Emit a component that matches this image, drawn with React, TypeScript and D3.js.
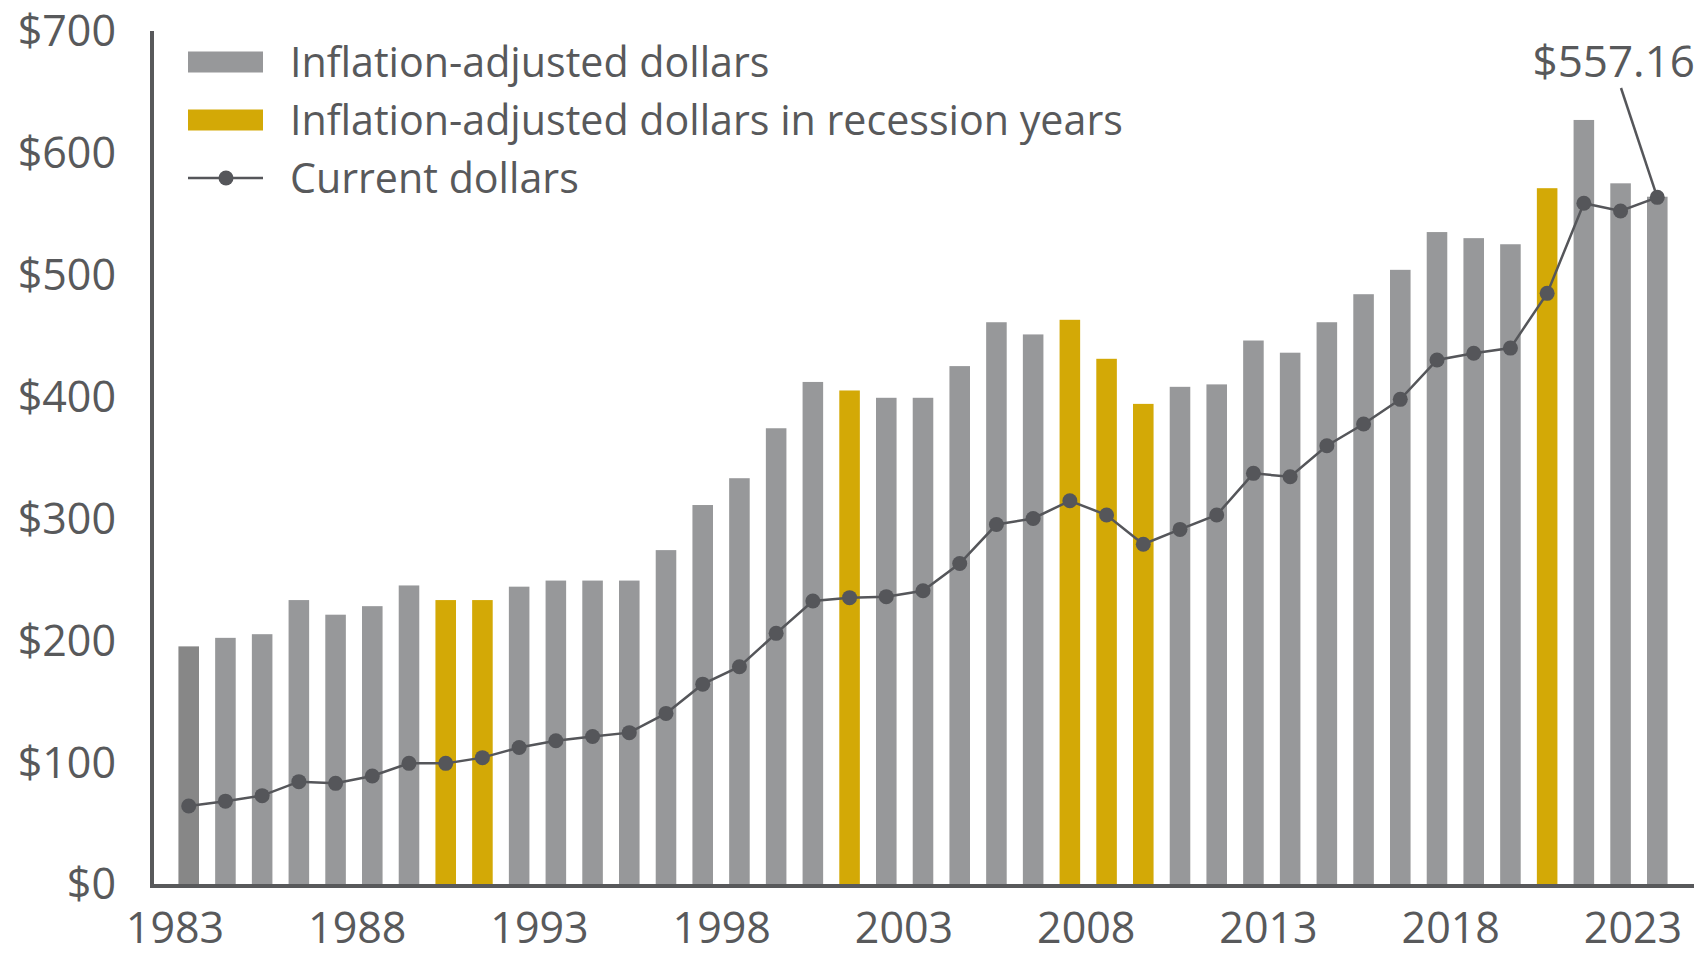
import React from "react";
import * as d3 from "d3";

// years on the x axis, one bar per year
const years: number[] = d3.range(1983, 2024);

// inflation-adjusted dollars (bars)
const adjusted: number[] = [
  195, 202, 205, 233, 221, 228, 245, 233, 233, 244,
  249, 249, 249, 274, 311, 333, 374, 412, 405, 399,
  399, 425, 461, 451, 463, 431, 394, 408, 410, 446,
  436, 461, 484, 504, 535, 530, 525, 571, 627, 575,
  564,
];

// current dollars (line)
const current: number[] = [
  64, 68, 72.5, 84, 82.6, 88.6, 99, 99, 103.7, 112,
  117.6, 121, 124.2, 140, 164, 178.3, 205.7, 232.2, 235, 235.8,
  240.7, 263, 295, 300, 314.5, 302.8, 278.8, 291, 302.8, 337,
  334.2, 359.7, 377.5, 397.7, 430, 435.5, 439.8, 484.7, 558.6, 552.3,
  563.5,
];

const recessionYears: number[] = [1990, 1991, 2001, 2007, 2008, 2009, 2020];
const yTicks: number[] = [0, 100, 200, 300, 400, 500, 600, 700];
const xTickYears: number[] = [1983, 1988, 1993, 1998, 2003, 2008, 2013, 2018, 2023];
const legendLabels: string[] = [
  "Inflation-adjusted dollars",
  "Inflation-adjusted dollars in recession years",
  "Current dollars",
];
const calloutText = "$557.16";

const W = 1704;
const H = 957;
const TEXT = "#58595b";
const GREY = "#97989a";
const GREY_FIRST = "#878787";
const GOLD = "#d3a906";
const DOT = "#55565a";
const FONT = "'Open Sans', 'Noto Sans', sans-serif";

export default function App() {
  const x = d3
    .scaleBand<number>()
    .domain(years)
    .range([152, 1694])
    .paddingInner(0.44)
    .paddingOuter(0.72);
  const y = d3.scaleLinear().domain([0, 700]).range([884, 31]);
  // tick labels sit slightly left of the bars in the original
  const xLabel = d3.scaleLinear().domain([1983, 2023]).range([175, 1633]);

  const cx = (yr: number) => (x(yr) as number) + x.bandwidth() / 2;
  const line = d3
    .line<number>()
    .x((_, i) => cx(years[i]))
    .y((d) => y(d));

  const barColor = (yr: number) =>
    recessionYears.includes(yr) ? GOLD : yr === years[0] ? GREY_FIRST : GREY;

  const lastX = cx(years[years.length - 1]);
  const lastY = y(current[current.length - 1]);
  const legendRows = [62, 120, 178];

  return (
    <svg
      width={W}
      height={H}
      style={{ position: "absolute", left: 0, top: 0, display: "block", background: "#fff" }}
      fontFamily={FONT}
    >
      {/* bars */}
      {years.map((yr, i) => (
        <rect
          key={yr}
          x={x(yr)}
          y={y(adjusted[i])}
          width={x.bandwidth()}
          height={y(0) - y(adjusted[i])}
          fill={barColor(yr)}
        />
      ))}

      {/* axes */}
      <line x1={152} x2={152} y1={y(700)} y2={y(0) + 4} stroke={TEXT} strokeWidth={4} />
      <line x1={150} x2={1694} y1={y(0) + 2} y2={y(0) + 2} stroke={TEXT} strokeWidth={4} />

      {yTicks.map((t) => (
        <text
          key={t}
          x={116}
          y={y(t)}
          dy="0.36em"
          textAnchor="end"
          fontSize={43}
          fill={TEXT}
        >
          {"$" + t}
        </text>
      ))}

      {xTickYears.map((t) => (
        <text key={t} x={xLabel(t)} y={943} textAnchor="middle" fontSize={43} fill={TEXT}>
          {t}
        </text>
      ))}

      {/* current dollars line */}
      <path d={line(current) || ""} fill="none" stroke={DOT} strokeWidth={2.5} />
      {current.map((v, i) => (
        <circle key={years[i]} cx={cx(years[i])} cy={y(v)} r={7.5} fill={DOT} />
      ))}

      {/* callout */}
      <line x1={1621} y1={88} x2={lastX} y2={lastY} stroke={DOT} strokeWidth={2.5} />
      <text x={1695} y={77} textAnchor="end" fontSize={44} fill={TEXT}>
        {calloutText}
      </text>

      {/* legend */}
      <rect x={188} y={legendRows[0] - 10.5} width={75} height={21} fill={GREY} />
      <rect x={188} y={legendRows[1] - 10.5} width={75} height={21} fill={GOLD} />
      <line x1={188} x2={263} y1={legendRows[2]} y2={legendRows[2]} stroke={DOT} strokeWidth={2.5} />
      <circle cx={226} cy={legendRows[2]} r={7.5} fill={DOT} />
      {legendLabels.map((l, i) => (
        <text key={l} x={290} y={legendRows[i]} dy="0.36em" fontSize={41.2} fill={TEXT}>
          {l}
        </text>
      ))}
    </svg>
  );
}
